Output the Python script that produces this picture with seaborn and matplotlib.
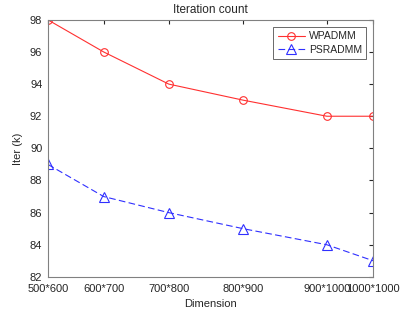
import numpy as np
import pandas as pd
import matplotlib
matplotlib.use('Agg')
import matplotlib.pyplot as plt
import seaborn as sns

# matrix sizes and iteration counts (k)
rows = [500, 600, 700, 800, 900, 1000]
cols = [600, 700, 800, 900, 1000, 1000]
wpadmm = [98, 96, 94, 93, 92, 92]
psradmm = [89, 87, 86, 85, 84, 83]

labels = [f'{r}*{c}' for r, c in zip(rows, cols)]
size = np.array(rows) * np.array(cols)

df = pd.DataFrame({
    'size': np.concatenate([size, size]),
    'iter': wpadmm + psradmm,
    'method': ['WPADMM'] * len(size) + ['PSRADMM'] * len(size),
})

sns.set_style('white')
plt.rcParams['font.family'] = ['Liberation Sans', 'DejaVu Sans']

fig = plt.figure(figsize=(4.13, 3.15), dpi=100)
ax = fig.add_axes([0.116, 0.121, 0.788, 0.816])

sns.lineplot(data=df, x='size', y='iter', hue='method', style='method',
             palette={'WPADMM': '#ff3030', 'PSRADMM': '#3030ff'},
             markers={'WPADMM': 'o', 'PSRADMM': '^'},
             dashes={'WPADMM': '', 'PSRADMM': (6, 3)},
             markerfacecolor='none', markersize=5.5, linewidth=0.8,
             markeredgewidth=0.8, ax=ax)
for line in ax.lines:
    line.set_markeredgecolor(line.get_color())
    if line.get_marker() == '^':
        line.set_markersize(6.5)

ax.set_xlim(size[0], size[-1])
ax.set_ylim(82, 98)
ax.set_xticks(size)
ax.set_xticklabels(labels)
ax.set_yticks(range(82, 99, 2))
ax.tick_params(direction='in', length=3, labelsize=8, colors='#262626',
               top=True, right=True)
ax.tick_params(axis='x', pad=5)
ax.tick_params(axis='y', pad=4)
for s in ax.spines.values():
    s.set_color('#808080')
    s.set_linewidth(0.8)

ax.set_xlabel('Dimension', fontsize=8, labelpad=4)
ax.set_ylabel('Iter (k)', fontsize=8, labelpad=5)
ax.set_title('Iteration count', fontsize=8.5, pad=5)

leg = ax.legend(loc='upper right', fontsize=7.5, frameon=True, fancybox=False,
                edgecolor='#262626', handlelength=2.6, handletextpad=0.4,
                borderpad=0.4, labelspacing=0.35, borderaxespad=0.7)
leg.get_frame().set_linewidth(0.6)
for h in leg.legend_handles:
    if h.get_marker() == '^':
        h.set_markersize(6.5)

fig.savefig('out.png', dpi=100)
